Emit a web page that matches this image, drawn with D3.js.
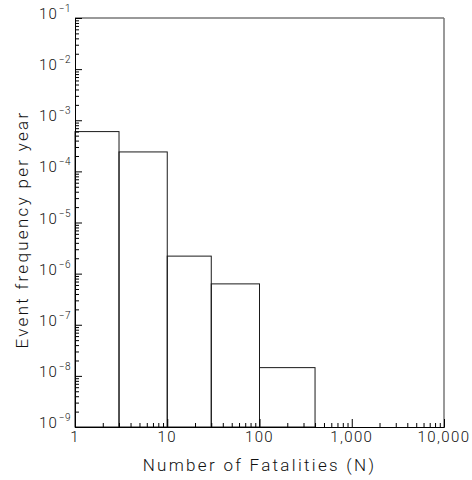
<!DOCTYPE html>
<html>
<head>
<meta charset="utf-8">
<script src="https://cdn.jsdelivr.net/npm/d3@7"></script>
<style>
  body { margin: 0; background: #fff; }
  text { font-family: Roboto, "DejaVu Sans", sans-serif; font-weight: 300; fill: #111; }
</style>
</head>
<body>
<div id="chart"></div>
<script>
// histogram bins (number of fatalities) and event frequency per year
const binEdges = [1, 3, 10, 30, 100, 400];
const frequencies = [6.0e-4, 2.4e-4, 2.2e-6, 6.3e-7, 1.45e-8];

const xTickValues = [1, 10, 100, 1000, 10000];
const xTickLabels = ['1', '10', '100', '1,000', '10,000'];
const yExponents = [-9, -8, -7, -6, -5, -4, -3, -2, -1];

const W = 472, H = 480;
const margin = { top: 18, right: 28, bottom: 53, left: 75 };

const svg = d3.select('#chart').append('svg')
  .attr('width', W)
  .attr('height', H);

const x = d3.scaleLog([1, 10000], [margin.left, W - margin.right]);
const y = d3.scaleLog([1e-9, 1e-1], [H - margin.bottom, margin.top]);

// minor tick values: 2..9 in every decade
function minors(lo, hi) {
  const out = [];
  for (let e = lo; e < hi; e++) {
    for (let m = 2; m <= 9; m++) out.push(m * Math.pow(10, e));
  }
  return out;
}

const bars = binEdges.slice(0, -1).map((x0, i) => ({ x0: x0, x1: binEdges[i + 1], v: frequencies[i] }));

svg.append('g')
  .selectAll('rect')
  .data(bars)
  .join('rect')
    .attr('x', d => x(d.x0))
    .attr('y', d => y(d.v))
    .attr('width', d => x(d.x1) - x(d.x0))
    .attr('height', d => y(1e-9) - y(d.v))
    .attr('fill', 'none')
    .attr('stroke', '#1a1a1a')
    .attr('stroke-width', 1);

// frame: top & right drawn lighter
svg.append('line')
  .attr('x1', x(1)).attr('x2', x(10000))
  .attr('y1', y(1e-1)).attr('y2', y(1e-1))
  .attr('stroke', '#777').attr('stroke-width', 1.5);
svg.append('line')
  .attr('x1', x(10000)).attr('x2', x(10000))
  .attr('y1', y(1e-1)).attr('y2', y(1e-9))
  .attr('stroke', '#777').attr('stroke-width', 1.5);

function styleAxis(g) {
  g.select('.domain').attr('stroke', '#000');
  g.selectAll('.tick line').attr('stroke', '#000');
  g.selectAll('.tick text').remove();
}

// bottom axis, ticks pointing inward
svg.append('g')
  .attr('transform', `translate(0,${y(1e-9)})`)
  .call(d3.axisBottom(x).tickValues(xTickValues).tickSize(-8).tickSizeOuter(0))
  .call(styleAxis);
svg.append('g')
  .attr('transform', `translate(0,${y(1e-9)})`)
  .call(d3.axisBottom(x).tickValues(minors(0, 4)).tickSize(-4).tickSizeOuter(0))
  .call(styleAxis);

// left axis, ticks pointing inward
svg.append('g')
  .attr('transform', `translate(${x(1)},0)`)
  .call(d3.axisLeft(y).tickValues(yExponents.map(e => Math.pow(10, e))).tickSize(-7).tickSizeOuter(0))
  .call(styleAxis);
svg.append('g')
  .attr('transform', `translate(${x(1)},0)`)
  .call(d3.axisLeft(y).tickValues(minors(-9, -1)).tickSize(-4).tickSizeOuter(0))
  .call(styleAxis);

// x tick labels
svg.append('g')
  .selectAll('text')
  .data(xTickValues)
  .join('text')
    .attr('x', d => x(d))
    .attr('y', y(1e-9) + 15)
    .attr('text-anchor', 'middle')
    .style('font-size', '15px')
    .style('letter-spacing', '1.4px')
    .text((d, i) => xTickLabels[i]);

// y tick labels 10^n
const yl = svg.append('g')
  .selectAll('text')
  .data(yExponents)
  .join('text')
    .attr('x', x(1) - 4)
    .attr('y', d => y(Math.pow(10, d)) + 1)
    .attr('text-anchor', 'end')
    .style('font-size', '15px')
    .style('letter-spacing', '1px');
yl.append('tspan').text('10');
yl.append('tspan')
  .attr('dy', -7)
  .attr('dx', 1)
  .style('font-size', '10px')
  .style('letter-spacing', '0.5px')
  .text(d => '\u2212' + Math.abs(d));

// axis titles
svg.append('text')
  .attr('x', (x(1) + x(10000)) / 2)
  .attr('y', H - 9)
  .attr('text-anchor', 'middle')
  .style('font-size', '17px')
  .style('letter-spacing', '2.3px')
  .text('Number of Fatalities (N)');

svg.append('text')
  .attr('transform', `translate(28,${(y(1e-1) + y(1e-9)) / 2 + 7}) rotate(-90)`)
  .attr('text-anchor', 'middle')
  .style('font-size', '17px')
  .style('letter-spacing', '2.3px')
  .text('Event frequency per year');
</script>
</body>
</html>
